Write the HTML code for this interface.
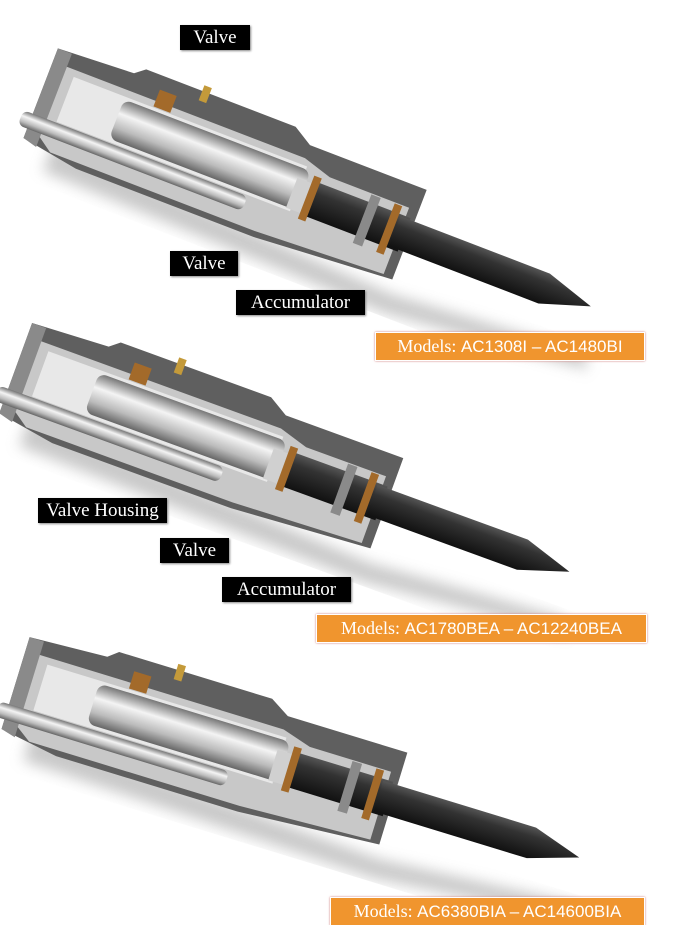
<!DOCTYPE html>
<html><head><meta charset="utf-8"><style>
html,body{margin:0;padding:0;background:#fff;}
#c{position:relative;width:681px;height:925px;overflow:hidden;background:#fff;}
.l{position:absolute;background:#000;color:#fff;font-family:"Liberation Serif",serif;font-size:19px;line-height:25px;text-align:center;box-shadow:1px 1px 2px #888;white-space:nowrap;}
.m{position:absolute;background:#f0952e;color:#fff;font-family:"Liberation Serif",serif;font-size:18px;line-height:27px;text-align:center;border:1px solid #fff;box-shadow:0 0 2px #c77;white-space:nowrap;overflow:hidden;}
.m b{font-family:"Liberation Sans Narrow","Liberation Sans",sans-serif;font-weight:normal;font-size:17px;}
</style></head><body><div id="c">
<svg width="681" height="925" style="position:absolute;left:0;top:0">
<defs>
<linearGradient id="sil" x1="0" y1="0" x2="0" y2="1"><stop offset="0" stop-color="#777"/><stop offset=".35" stop-color="#f4f4f4"/><stop offset=".7" stop-color="#bbb"/><stop offset="1" stop-color="#666"/></linearGradient>
<linearGradient id="tool" x1="0" y1="0" x2="0" y2="1"><stop offset="0" stop-color="#555"/><stop offset=".3" stop-color="#333"/><stop offset="1" stop-color="#111"/></linearGradient>
<filter id="bl"><feGaussianBlur stdDeviation="7"/></filter>
<g id="br">
<polygon points="30,40 400,60 600,45 610,60 400,80 30,70" fill="#bbb" filter="url(#bl)" opacity=".8"/>
<polygon points="0,-50 80,-54 90,-62 250,-62 270,-50 395,-50 395,46 250,56 60,56 0,46" fill="#5f5f5f"/>
<polygon points="10,-36 270,-36 300,-27 385,-27 385,44 250,50 30,50 10,36" fill="#c8c8c8"/>
<polygon points="0,-50 15,-50 15,50 0,46" fill="#8a8a8a"/>
<rect x="25" y="-29" width="250" height="48" fill="#e8e8e8"/>
<rect x="80" y="-26" width="200" height="42" rx="8" fill="url(#sil)"/>
<rect x="-10" y="20" width="240" height="16" rx="6" fill="url(#sil)"/>
<rect x="270" y="-15" width="60" height="32" fill="#d0d0d0"/>
<rect x="290" y="-18" width="100" height="36" fill="url(#tool)"/>
<polygon points="380,-16 540,-16 590,0 540,16 380,16" fill="url(#tool)"/>
<rect x="285" y="-23" width="8" height="46" fill="#a36a2a"/>
<rect x="345" y="-26" width="10" height="52" fill="#8a8a8a"/>
<rect x="370" y="-26" width="8" height="52" fill="#a36a2a"/>
<rect x="110" y="-48" width="18" height="18" fill="#a36a2a"/>
<rect x="150" y="-68" width="8" height="16" fill="#c49a3a"/>
</g>
</defs>
<use href="#br" transform="translate(40,95) rotate(21)"/>
<use href="#br" transform="translate(15,370) rotate(20)"/>
<use href="#br" transform="translate(15,685) rotate(17)"/>
</svg>
<div class="l" style="left:180px;top:25px;width:70px;">Valve</div>
<div class="l" style="left:170px;top:251px;width:68px;">Valve</div>
<div class="l" style="left:236px;top:290px;width:129px;">Accumulator</div>
<div class="m" style="left:375px;top:332px;width:268px;">Models: <b>AC1308I – AC1480BI</b></div>
<div class="l" style="left:38px;top:498px;width:129px;">Valve Housing</div>
<div class="l" style="left:160px;top:538px;width:69px;">Valve</div>
<div class="l" style="left:222px;top:577px;width:129px;">Accumulator</div>
<div class="m" style="left:316px;top:614px;width:329px;">Models: <b>AC1780BEA – AC12240BEA</b></div>
<div class="m" style="left:330px;top:897px;width:313px;">Models: <b>AC6380BIA – AC14600BIA</b></div>
</div></body></html>
